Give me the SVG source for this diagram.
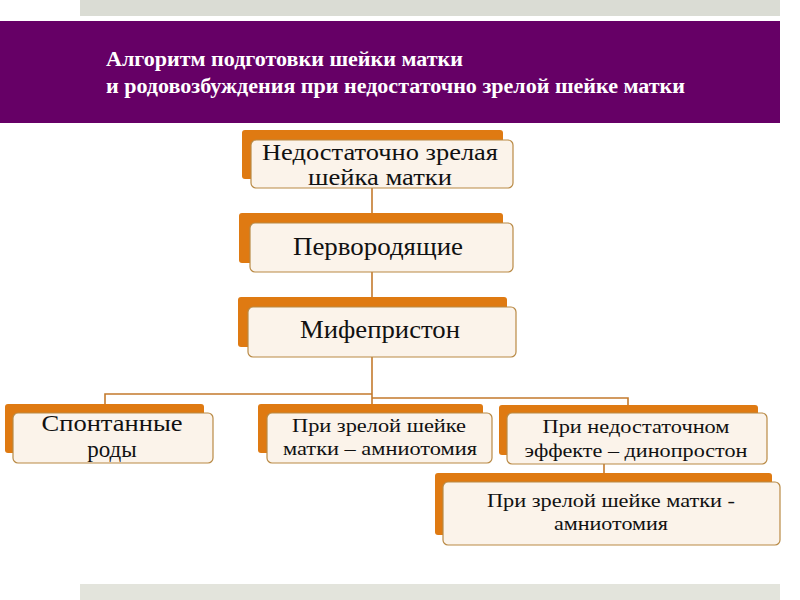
<svg xmlns="http://www.w3.org/2000/svg" width="800" height="600" viewBox="0 0 800 600">
<style>
.back{fill:#df7a12;}
.front{fill:#fbf3ea;stroke:#b98a45;stroke-width:1.2;}
.t{font-family:"Liberation Serif","Times New Roman",serif;fill:#111;text-anchor:middle;}
.title{font-family:"Liberation Serif","Times New Roman",serif;font-weight:bold;fill:#ffffff;font-size:20px;}
.conn{stroke:#c47a2c;stroke-width:1.6;fill:none;}
</style>
<rect x="0" y="0" width="800" height="600" fill="#ffffff"/>
<rect x="80" y="0" width="700" height="16" fill="#dadcd4"/>
<rect x="80" y="584" width="700" height="16" fill="#e3e4dc"/>
<rect x="0" y="21" width="780" height="102" fill="#660066"/>
<text class="title" x="106" y="66" textLength="357" lengthAdjust="spacingAndGlyphs">Алгоритм  подготовки шейки матки</text>
<text class="title" x="106" y="93" textLength="579" lengthAdjust="spacingAndGlyphs">и родовозбуждения  при недостаточно  зрелой шейке матки</text>
<g id="connectors">
<path class="conn" d="M372 188 V213"/>
<path class="conn" d="M372 272 V297"/>
<path class="conn" d="M372 357 V404"/>
<path class="conn" d="M105 404 V394 H372"/>
<path class="conn" d="M372 398 H628 V405"/>
<path class="conn" d="M604 464 V473"/>
</g>
<g id="n1">
<rect class="back" x="242" y="130" width="261" height="49" rx="3"/>
<rect class="front" x="251" y="140" width="262" height="48" rx="5"/>
<text class="t" font-size="24" x="380" y="160" textLength="236" lengthAdjust="spacingAndGlyphs">Недостаточно зрелая</text>
<text class="t" font-size="24" x="380" y="185" textLength="144" lengthAdjust="spacingAndGlyphs">шейка матки</text>
</g>
<g id="n2">
<rect class="back" x="239" y="213" width="264" height="50" rx="3"/>
<rect class="front" x="250" y="223" width="263" height="49" rx="5"/>
<text class="t" font-size="25" x="378" y="255" textLength="170" lengthAdjust="spacingAndGlyphs">Первородящие</text>
</g>
<g id="n3">
<rect class="back" x="238" y="297" width="269" height="50" rx="3"/>
<rect class="front" x="248" y="307" width="268" height="50" rx="5"/>
<text class="t" font-size="25" x="380" y="338" textLength="160" lengthAdjust="spacingAndGlyphs">Мифепристон</text>
</g>
<g id="n4">
<rect class="back" x="5" y="404" width="199" height="49" rx="3"/>
<rect class="front" x="13" y="413" width="200" height="50" rx="5"/>
<text class="t" font-size="23" x="112" y="431" textLength="141" lengthAdjust="spacingAndGlyphs">Спонтанные</text>
<text class="t" font-size="23" x="112" y="457">роды</text>
</g>
<g id="n5">
<rect class="back" x="258" y="404" width="225" height="49" rx="3"/>
<rect class="front" x="267" y="413" width="225" height="50" rx="5"/>
<text class="t" font-size="19" x="379" y="432" textLength="174" lengthAdjust="spacingAndGlyphs">При зрелой шейке</text>
<text class="t" font-size="19" x="380" y="455" textLength="194" lengthAdjust="spacingAndGlyphs">матки – амниотомия</text>
</g>
<g id="n6">
<rect class="back" x="499" y="405" width="259" height="50" rx="3"/>
<rect class="front" x="507" y="413" width="260" height="51" rx="5"/>
<text class="t" font-size="19" x="636" y="433" textLength="187" lengthAdjust="spacingAndGlyphs">При недостаточном</text>
<text class="t" font-size="19" x="636" y="457" textLength="223" lengthAdjust="spacingAndGlyphs">эффекте – динопростон</text>
</g>
<g id="n7">
<rect class="back" x="435" y="473" width="337" height="62" rx="3"/>
<rect class="front" x="443" y="482" width="337" height="63" rx="5"/>
<text class="t" font-size="19" x="611" y="507" textLength="248" lengthAdjust="spacingAndGlyphs">При зрелой шейке матки -</text>
<text class="t" font-size="19" x="611" y="530" textLength="114" lengthAdjust="spacingAndGlyphs">амниотомия</text>
</g>
</svg>
